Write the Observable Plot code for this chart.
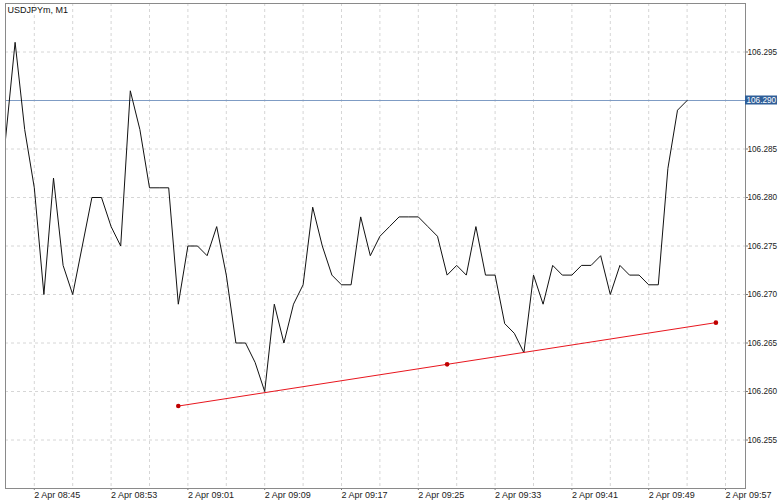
<!DOCTYPE html>
<html>
<head>
<meta charset="utf-8">
<script src="https://cdn.jsdelivr.net/npm/d3@7"></script>
<script src="https://cdn.jsdelivr.net/npm/@observablehq/plot@0.6"></script>
<style>
  html, body { margin: 0; padding: 0; background: #ffffff; }
  #chart svg { display: block; overflow: visible; }
</style>
</head>
<body>
<div id="chart"></div>
<script>
const title = "USDJPYm, M1";
const dayLabel = "2 Apr";

const times = [
  "08:42","08:43","08:44","08:45","08:46","08:47","08:48","08:49","08:50","08:51",
  "08:52","08:53","08:54","08:55","08:56","08:57","08:58","08:59","09:00","09:01",
  "09:02","09:03","09:04","09:05","09:06","09:07","09:08","09:09","09:10","09:11",
  "09:12","09:13","09:14","09:15","09:16","09:17","09:18","09:19","09:20","09:21",
  "09:22","09:23","09:24","09:25","09:26","09:27","09:28","09:29","09:30","09:31",
  "09:32","09:33","09:34","09:35","09:36","09:37","09:38","09:39","09:40","09:41",
  "09:42","09:43","09:44","09:45","09:46","09:47","09:48","09:49","09:50","09:51",
  "09:52","09:53"
];
const prices = [
  106.286,106.296,106.287,106.281,106.270,106.282,106.273,106.270,106.275,106.280,
  106.280,106.277,106.275,106.291,106.287,106.281,106.281,106.281,106.269,106.275,
  106.275,106.274,106.277,106.272,106.265,106.265,106.263,106.260,106.269,106.265,
  106.269,106.271,106.279,106.275,106.272,106.271,106.271,106.278,106.274,106.276,
  106.277,106.278,106.278,106.278,106.277,106.276,106.272,106.273,106.272,106.277,
  106.272,106.272,106.267,106.266,106.264,106.272,106.269,106.273,106.272,106.272,
  106.273,106.273,106.274,106.270,106.273,106.272,106.272,106.271,106.271,106.283,
  106.289,106.290
];

const trendTimes = ["09:00", "09:28", "09:56"];
const trendPrices = [106.2585, 106.2628, 106.2671];

const currentPrice = 106.290;

const xDomainTimes = ["08:42:00", "09:59:05"];
const yDomain = [106.250, 106.300];

const xLabelTimes = ["08:45","08:53","09:01","09:09","09:17","09:25","09:33","09:41","09:49","09:57"];
const xGridTimes = ["08:45","08:49","08:53","08:57","09:01","09:05","09:09","09:13","09:17","09:21",
                    "09:25","09:29","09:33","09:37","09:41","09:45","09:49","09:53","09:57"];
const yTicks = [106.255, 106.260, 106.265, 106.270, 106.275, 106.280, 106.285, 106.290, 106.295];

const toDate = s => {
  const [h, m, sec] = s.split(":").map(Number);
  return new Date(Date.UTC(2020, 3, 2, h, m, sec || 0));
};

const series = times.map((t, i) => ({time: toDate(t), price: prices[i]}));
const trend = trendTimes.map((t, i) => ({time: toDate(t), price: trendPrices[i]}));

const font = "'Liberation Sans', Arial, sans-serif";
const W = 778, H = 500, mL = 5, mR = 33, mT = 3, mB = 12;

const chart = Plot.plot({
  width: W,
  height: H,
  marginLeft: mL,
  marginRight: mR,
  marginTop: mT,
  marginBottom: mB,
  style: {fontFamily: font, fontSize: "9px", color: "#222", background: "#ffffff", overflow: "visible"},
  x: {type: "utc", domain: xDomainTimes.map(toDate), axis: null},
  y: {domain: yDomain, axis: null},
  marks: [
    Plot.gridX(xGridTimes.map(toDate), {stroke: "#d6d6d6", strokeOpacity: 1, strokeDasharray: "3,3"}),
    Plot.gridY(yTicks, {stroke: "#d6d6d6", strokeOpacity: 1, strokeDasharray: "3,3"}),
    Plot.ruleY([currentPrice], {stroke: "#7f9cc4", strokeWidth: 1}),
    Plot.axisX({
      anchor: "bottom",
      label: null,
      ticks: xLabelTimes.map(toDate),
      tickFormat: d => `${dayLabel} ${d3.utcFormat("%H:%M")(d)}`,
      tickSize: 2,
      tickPadding: 1,
      textAnchor: "start",
      fontSize: 9,
      fill: "#222",
      stroke: "#777"
    }),
    Plot.axisY({
      anchor: "right",
      label: null,
      ticks: yTicks,
      tickFormat: d3.format(".3f"),
      tickSize: 2,
      tickPadding: 0,
      textAnchor: "start",
      fontSize: 8.2,
      fill: "#222",
      stroke: "#777"
    }),
    Plot.line(series, {x: "time", y: "price", stroke: "#111", strokeWidth: 1}),
    Plot.line(trend, {x: "time", y: "price", stroke: "#e8161e", strokeWidth: 1}),
    Plot.dot(trend, {x: "time", y: "price", r: 2.3, fill: "#c00000", stroke: "none"}),
    Plot.text([title], {frameAnchor: "top-left", dx: 2, dy: 3, fontSize: 9, fill: "#111"}),
    Plot.frame({stroke: "#8a8a8a", strokeWidth: 1})
  ]
});

// current price badge on the right axis
const yPix = chart.scale("y").apply(currentPrice);
const svg = d3.select(chart);
const badge = svg.append("g");
badge.append("rect")
  .attr("x", W - mR)
  .attr("y", yPix - 4.5)
  .attr("width", mR - 1)
  .attr("height", 9)
  .attr("fill", "#2f5e98");
badge.append("text")
  .attr("x", W - mR + 1.5)
  .attr("y", yPix)
  .attr("dy", "0.35em")
  .attr("text-anchor", "start")
  .attr("fill", "#ffffff")
  .attr("font-size", 8.2)
  .attr("font-family", font)
  .text(d3.format(".3f")(currentPrice));

document.getElementById("chart").appendChild(chart);
</script>
</body>
</html>
